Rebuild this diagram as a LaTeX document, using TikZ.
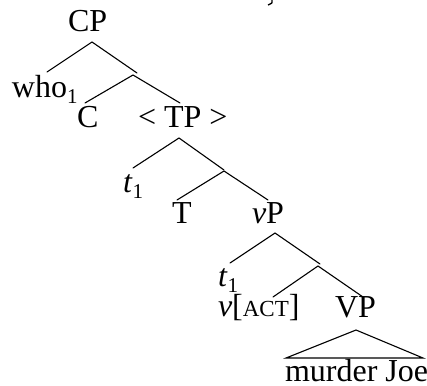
\documentclass[tikz,border=0pt]{standalone}
\usepackage{fontspec}
\setmainfont{Liberation Serif}
\newcommand\lowidx[1]{\raisebox{-0.2em}{\fontsize{21}{21}\selectfont #1}}
\newcommand\smcap[1]{{\fontsize{23}{23}\selectfont #1}}
\begin{document}
\begin{tikzpicture}[x=1pt,y=-1pt,
  lbl/.style={anchor=base west,inner sep=0pt,outer sep=0pt,font=\fontsize{32}{38}\selectfont},
  branch/.style={line width=1.1pt,line cap=round}]
\useasboundingbox (0,0) rectangle (427,385);

% labels
\node[lbl] (cp)   at (68,32)   {CP};
\node[lbl] (who)  at (12,97)   {who\lowidx{1}};
\node[lbl] (c)    at (77,127)  {C};
\node[lbl] (tp)   at (138,127) {< TP >};
\node[lbl] (ta)   at (123,192) {\textit{t}\lowidx{1}};
\node[lbl] (t)    at (172,223) {T};
\node[lbl] (vp)   at (252,223) {\textit{v}P};
\node[lbl] (tb)   at (218,286) {\textit{t}\lowidx{1}};
\node[lbl] (v)    at (218,316) {\textit{v}[\smcap{ACT}]};
\node[lbl] (vpp)  at (335,317) {VP};
\node[lbl] (obj)  at (285,381) {murder Joe};

% branch points
\coordinate (cpA)  at (92,42);
\coordinate (cpL)  at (47,72);
\coordinate (cpR)  at (137,73);
\coordinate (cbA)  at (133,75);
\coordinate (cbL)  at (85,103);
\coordinate (cbR)  at (180,103);
\coordinate (tpA)  at (179,138);
\coordinate (tpL)  at (133,168);
\coordinate (tpR)  at (224,170);
\coordinate (tbA)  at (224,171);
\coordinate (tbL)  at (177,200);
\coordinate (tbR)  at (268,200);
\coordinate (vpA)  at (275,233);
\coordinate (vpL)  at (230,263);
\coordinate (vpR)  at (320,264);
\coordinate (vbA)  at (318,266);
\coordinate (vbL)  at (273,297);
\coordinate (vbR)  at (363,297);
\coordinate (triA) at (356,330);
\coordinate (triL) at (286,358);
\coordinate (triR) at (423,358);

% tree branches
\draw[branch] (cpL) -- (cpA) -- (cpR);
\draw[branch] (cbL) -- (cbA) -- (cbR);
\draw[branch] (tpL) -- (tpA) -- (tpR);
\draw[branch] (tbL) -- (tbA) -- (tbR);
\draw[branch] (vpL) -- (vpA) -- (vpR);
\draw[branch] (vbL) -- (vbA) -- (vbR);
\draw[branch,line join=miter] (triA) -- (triL) -- (triR) -- cycle;

% small stroke at the top edge
\coordinate (mkA) at (272,0);
\coordinate (mkB) at (268,5);
\draw[line width=1.3pt] (mkA) .. controls (272.5,3) .. (mkB);
\end{tikzpicture}
\end{document}
